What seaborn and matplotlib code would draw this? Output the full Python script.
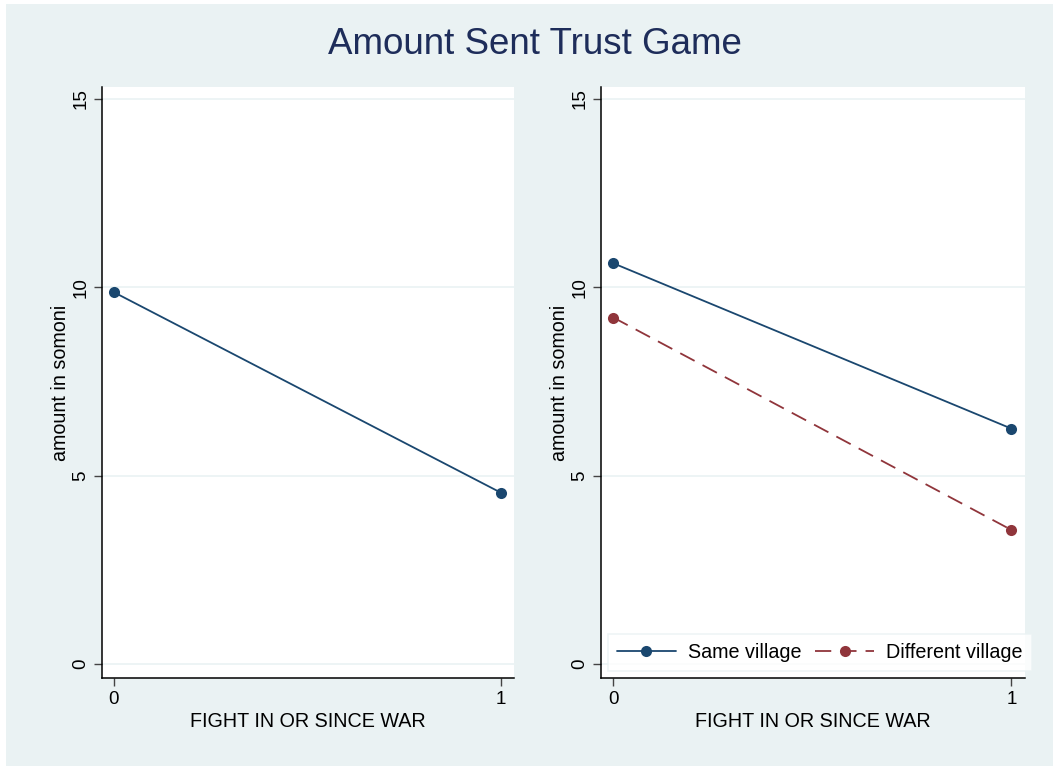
import pandas as pd
import seaborn as sns
import matplotlib.pyplot as plt
from matplotlib.patches import Rectangle

# values
fight = [0, 1]
overall = [9.87, 4.55]
same_village = [10.64, 6.25]
diff_village = [9.20, 3.56]
groups = ["Same village", "Different village"]

navy = "#1a476f"
maroon = "#90353b"
bg = "#eaf2f3"

df_left = pd.DataFrame({"fight": fight, "amount": overall})
df_right = pd.DataFrame({
    "fight": fight * 2,
    "amount": same_village + diff_village,
    "group": [groups[0]] * 2 + [groups[1]] * 2,
})

sns.set_theme(style="white")
plt.rcParams["font.family"] = ["Liberation Sans", "DejaVu Sans"]
plt.rcParams["text.color"] = "black"
plt.rcParams["axes.labelcolor"] = "black"
plt.rcParams["xtick.color"] = "black"
plt.rcParams["ytick.color"] = "black"

fig = plt.figure(figsize=(10.53, 7.66), dpi=100)
fig.patch.set_facecolor("white")
fig.patches.append(Rectangle((6 / 1053, 0), 1 - 6 / 1053, 1 - 4 / 766,
                             transform=fig.transFigure, facecolor=bg,
                             edgecolor="none", zorder=-10))

W, H = 1053, 766
ax1 = fig.add_axes([102 / W, 1 - 678 / H, (514 - 102) / W, (678 - 87) / H])
ax2 = fig.add_axes([601 / W, 1 - 678 / H, (1025 - 601) / W, (678 - 87) / H])

sns.lineplot(data=df_left, x="fight", y="amount", ax=ax1, color=navy,
             marker="o", markersize=8, markeredgewidth=0, linewidth=1.3)
sns.lineplot(data=df_right, x="fight", y="amount", hue="group", style="group",
             hue_order=groups, style_order=groups,
             palette=[navy, maroon], dashes=[(None, None), (9, 5)],
             markers=["o", "o"], markersize=8, markeredgewidth=0,
             linewidth=1.3, ax=ax2)

for ax in (ax1, ax2):
    ax.set_facecolor("white")
    ax.set_xlim(-0.031, 1.034)
    ax.set_ylim(-0.37, 15.32)
    ax.set_xticks([0, 1])
    ax.set_yticks([0, 5, 10, 15])
    ax.tick_params(axis="both", which="both", direction="out", length=6,
                   width=1, color="#444444", labelsize=13.5, pad=3,
                   bottom=True, left=True)
    for lab in ax.get_yticklabels():
        lab.set_rotation(90)
        lab.set_va("center")
    ax.yaxis.grid(True, color=bg, linewidth=1.2)
    ax.set_axisbelow(True)
    for side in ("top", "right"):
        ax.spines[side].set_visible(False)
    for side in ("left", "bottom"):
        ax.spines[side].set_color("black")
        ax.spines[side].set_linewidth(1.1)
    ax.set_xlabel("FIGHT IN OR SINCE WAR", fontsize=14.2, labelpad=3)
    ax.set_ylabel("amount in somoni", fontsize=14.2, labelpad=2)

leg = ax2.legend(loc="lower left", ncol=2, fontsize=14.2, frameon=True,
                 bbox_to_anchor=(7 / 424, 0.012), borderaxespad=0,
                 handlelength=3.0, handletextpad=0.6, columnspacing=0.7,
                 borderpad=0.45, fancybox=False)
leg.get_frame().set_edgecolor(bg)
leg.get_frame().set_facecolor("white")
leg.get_frame().set_linewidth(1.2)
leg.set_title(None)

fig.suptitle("Amount Sent Trust Game", fontsize=26.5, color="#1e2d5a",
             x=535 / W, y=1 - 45 / H, va="center")

fig.savefig("out.png", dpi=100)
